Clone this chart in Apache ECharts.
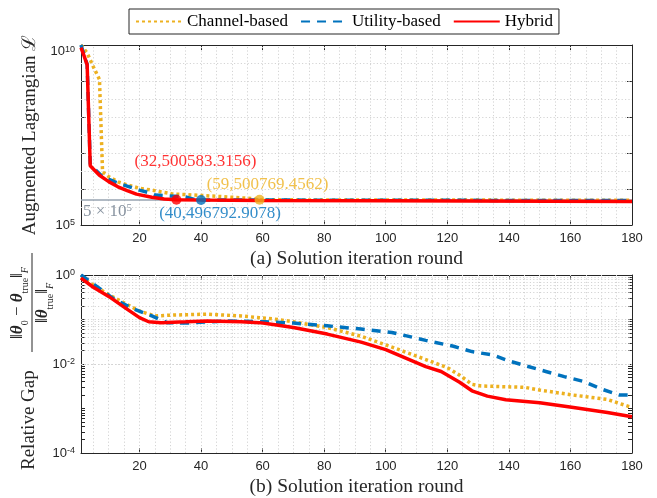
<!DOCTYPE html>
<html>
<head>
<meta charset="utf-8">
<script src="https://cdn.jsdelivr.net/npm/echarts@6/dist/echarts.min.js"></script>
<style>
  html, body { margin: 0; padding: 0; background: #ffffff; }
  #chart { width: 657px; height: 498px; }
</style>
</head>
<body>
<div id="chart"></div>
<script>
// ---- (a) augmented Lagrangian per solution round ----
const lagRoundsChannel = [1, 3, 5, 7, 8, 10, 13, 16, 20, 24, 31, 35, 46, 57, 59, 80, 120, 180];
const lagChannel = [1e10, 6.0e9, 2.5e9, 1.1e9, 3.0e6, 2.2e6, 1.58e6, 1.3e6, 1.05e6, 9.3e5, 7.2e5, 7.0e5, 6.2e5, 5.4e5, 500769.4562, 4.97e5, 4.92e5, 4.88e5];

const lagRoundsUtility = [1, 2, 3, 4, 6, 8, 13, 16, 20, 23, 25, 35, 38, 40, 60, 100, 180];
const lagUtility = [1e10, 5.3e9, 2.9e9, 5.0e6, 3.2e6, 2.2e6, 1.45e6, 1.2e6, 9.3e5, 7.9e5, 6.8e5, 6.0e5, 5.1e5, 496792.9078, 4.93e5, 4.86e5, 4.78e5];

const lagRoundsHybrid = [1, 2, 3, 4, 5, 7, 10, 13, 16, 19, 24, 28, 32, 40, 60, 100, 180];
const lagHybrid = [8.5e9, 5.0e9, 2.8e9, 4.4e6, 3.6e6, 2.4e6, 1.6e6, 1.15e6, 9.0e5, 7.2e5, 5.9e5, 5.3e5, 500583.3156, 4.92e5, 4.8e5, 4.7e5, 4.5e5];

// highlighted points: [round, value]
const pointHybrid = [32, 500583.3156];
const pointUtility = [40, 496792.9078];
const pointChannel = [59, 500769.4562];
const refLevel = 5e5;

// ---- (b) relative gap per solution round ----
const gapRoundsChannel = [1, 10, 20, 25, 31, 42, 53, 59, 64, 70, 81, 92, 102, 113, 120, 124, 128, 131, 145, 150, 161, 172, 180];
const gapChannel = [0.89, 0.36, 0.155, 0.12, 0.126, 0.132, 0.12, 0.11, 0.102, 0.089, 0.066, 0.042, 0.024, 0.0126, 0.0083, 0.0056, 0.0035, 0.0032, 0.003, 0.0026, 0.002, 0.0016, 0.00105];

const gapRoundsUtility = [1, 12, 18, 24, 29, 35, 48, 61, 70, 81, 92, 102, 113, 122, 128, 135, 140, 146, 152, 158, 164, 170, 176, 180];
const gapUtility = [1.0, 0.28, 0.174, 0.12, 0.085, 0.083, 0.093, 0.089, 0.083, 0.072, 0.061, 0.051, 0.034, 0.025, 0.019, 0.0158, 0.0117, 0.0089, 0.0068, 0.0052, 0.0041, 0.00275, 0.002, 0.002];

const gapRoundsHybrid = [1, 5, 10, 15, 20, 23, 27, 35, 42, 53, 59, 64, 70, 81, 92, 100, 113, 118, 124, 128, 133, 139, 150, 161, 172, 180];
const gapHybrid = [0.85, 0.53, 0.33, 0.19, 0.11, 0.089, 0.085, 0.089, 0.093, 0.089, 0.085, 0.076, 0.066, 0.047, 0.031, 0.021, 0.0087, 0.0068, 0.0039, 0.0025, 0.0019, 0.00158, 0.00135, 0.00105, 0.00081, 0.00065];

// ---- axis ticks ----
const roundTicks = [20, 40, 60, 80, 100, 120, 140, 160, 180];
const lagLabelTicks = [1e5, 1e10];
const gapLabelTicks = [1e-4, 1e-2, 1];

const seriesNames = ['Channel-based', 'Utility-based', 'Hybrid'];
const colors = { channel: '#EDB120', utility: '#0072BD', hybrid: '#FF0000' };

const zip = (xs, ys) => xs.map((x, i) => [x, ys[i]]);

const INK = '#262626';
const SANS = 'Liberation Sans';
const SERIF = 'Liberation Serif';

// gap axis ticks at every k * 10^n
const gapTicks = [];
for (let n = -4; n <= 0; n++) {
  for (let k = 1; k <= 9; k++) {
    const v = k * Math.pow(10, n);
    if (v <= 1.0000001) gapTicks.push(+v.toPrecision(6));
  }
}

// dotted grid lines
const gridStyle = { color: '#d4d4d4', type: [1.2, 2.2], width: 1 };
const roundGrid = [];
for (let r = 5; r < 180; r += 5) roundGrid.push({ xAxis: r });
const lagGrid = roundGrid.slice();
for (let e = 5.5; e < 10; e += 0.5) lagGrid.push({ yAxis: Math.pow(10, e) });
const gapGrid = roundGrid.slice();
gapTicks.forEach(v => { if (v > 1e-4 && v < 1) gapGrid.push({ yAxis: v }); });

const supRich = {
  b: { fontFamily: SANS, fontSize: 13, color: INK, lineHeight: 13, verticalAlign: 'bottom' },
  s: { fontFamily: SANS, fontSize: 9, color: INK, lineHeight: 9, verticalAlign: 'top', padding: [0, 0, 6, 0] }
};
const powLabel = v => '{b|10}{s|' + Math.round(Math.log10(v)) + '}';

function roundAxis(gridIndex, position, name) {
  return {
    type: 'value', gridIndex, position, min: 1, max: 180,
    name: name || '', nameLocation: 'middle', nameGap: 24,
    nameTextStyle: { fontFamily: SERIF, fontSize: 19.5, color: INK },
    axisLine: { show: true, onZero: false, lineStyle: { color: INK, width: 1 } },
    axisTick: { show: true, inside: true, length: 5, customValues: roundTicks, lineStyle: { color: INK } },
    axisLabel: {
      show: position === 'bottom', customValues: roundTicks, margin: 7,
      fontFamily: SANS, fontSize: 13, color: INK
    },
    splitLine: { show: false }
  };
}

function lagAxis(position) {
  return {
    type: 'log', logBase: 10, gridIndex: 0, position, min: 1e5, max: 1e10, splitNumber: 5,
    name: position === 'left' ? 'Augmented Lagrangian \u2112' : '',
    nameLocation: 'middle', nameGap: 38,
    nameTextStyle: { fontFamily: SERIF, fontSize: 19, color: INK },
    axisLine: { show: true, lineStyle: { color: INK, width: 1 } },
    axisTick: { show: true, inside: true, length: 5, lineStyle: { color: INK } },
    axisLabel: {
      show: position === 'left', customValues: lagLabelTicks, margin: 6,
      verticalAlignMaxLabel: 'top',
      formatter: powLabel, rich: supRich
    },
    splitLine: { show: false }
  };
}

function gapAxis(position) {
  return {
    type: 'log', logBase: 10, gridIndex: 1, position, min: 1e-4, max: 1,
    axisLine: { show: true, lineStyle: { color: INK, width: 1 } },
    axisTick: { show: true, inside: true, length: 4, customValues: gapTicks, lineStyle: { color: INK } },
    axisLabel: {
      show: position === 'left', customValues: gapLabelTicks, margin: 6,
      formatter: powLabel, rich: supRich
    },
    splitLine: { show: false }
  };
}

function curve(name, data, color, type, xi, yi) {
  return {
    name, type: 'line', data, xAxisIndex: xi, yAxisIndex: yi,
    symbol: 'none', smooth: false, z: 5,
    lineStyle: { color, width: 3.5, type, cap: 'butt' },
    itemStyle: { color }
  };
}

function marker(point, color, pos, offset) {
  return {
    type: 'scatter', xAxisIndex: 0, yAxisIndex: 0, z: 8,
    data: [point], symbol: 'circle', symbolSize: 10,
    itemStyle: { color },
    label: {
      show: true, position: pos, distance: 5, offset,
      formatter: p => '(' + p.value[0] + ',' + p.value[1] + ')',
      fontFamily: SERIF, fontSize: 17, color
    }
  };
}

const chart = echarts.init(document.getElementById('chart'), null, { renderer: 'canvas' });

chart.setOption({
  animation: false,
  backgroundColor: '#ffffff',
  grid: [
    { left: 81, top: 45, width: 551, height: 180 },
    { left: 81, top: 275, width: 551, height: 181 }
  ],
  legend: {
    data: seriesNames, left: 129, top: 9, orient: 'horizontal',
    itemWidth: 46, itemHeight: 14, itemGap: 12,
    padding: [4, 6, 4, 6], borderColor: INK, borderWidth: 1, backgroundColor: '#ffffff',
    selectedMode: false,
    itemStyle: { opacity: 0, borderWidth: 0 },
    textStyle: { fontFamily: SERIF, fontSize: 17, color: '#000000' }
  },
  xAxis: [
    roundAxis(0, 'bottom', '(a) Solution iteration round'),
    roundAxis(0, 'top'),
    roundAxis(1, 'bottom', '(b) Solution iteration round'),
    roundAxis(1, 'top')
  ],
  yAxis: [lagAxis('left'), lagAxis('right'), gapAxis('left'), gapAxis('right')],
  series: [
    {
      type: 'line', xAxisIndex: 0, yAxisIndex: 0, data: [], silent: true, z: 1,
      markLine: { symbol: 'none', silent: true, label: { show: false }, lineStyle: gridStyle, data: lagGrid }
    },
    {
      type: 'line', xAxisIndex: 2, yAxisIndex: 2, data: [], silent: true, z: 1,
      markLine: { symbol: 'none', silent: true, label: { show: false }, lineStyle: gridStyle, data: gapGrid }
    },
    {
      type: 'line', xAxisIndex: 0, yAxisIndex: 0, data: [], silent: true, z: 3,
      markLine: {
        symbol: 'none', silent: true,
        lineStyle: { color: '#97a3b0', type: 'solid', width: 1.5 },
        label: {
          show: true, position: 'insideStartBottom', distance: [2, 3],
          formatter: '{a|5 \u00d7 10}{s|5}',
          rich: {
            a: { fontFamily: SERIF, fontSize: 17, color: '#8893a0', lineHeight: 17, verticalAlign: 'bottom' },
            s: { fontFamily: SERIF, fontSize: 11, color: '#8893a0', lineHeight: 11, verticalAlign: 'top', padding: [0, 0, 8, 0] }
          }
        },
        data: [{ yAxis: refLevel }]
      }
    },
    curve(seriesNames[0], zip(lagRoundsChannel, lagChannel), colors.channel, [3, 3], 0, 0),
    curve(seriesNames[1], zip(lagRoundsUtility, lagUtility), colors.utility, [9, 7], 0, 0),
    curve(seriesNames[2], zip(lagRoundsHybrid, lagHybrid), colors.hybrid, 'solid', 0, 0),
    curve(seriesNames[0], zip(gapRoundsChannel, gapChannel), colors.channel, [3, 3], 2, 2),
    curve(seriesNames[1], zip(gapRoundsUtility, gapUtility), colors.utility, [9, 7], 2, 2),
    curve(seriesNames[2], zip(gapRoundsHybrid, gapHybrid), colors.hybrid, 'solid', 2, 2),
    marker(pointHybrid, colors.hybrid, 'top', [19, -20]),
    marker(pointUtility, colors.utility, 'bottom', [19, -5]),
    marker(pointChannel, colors.channel, 'top', [8, 3])
  ],
  graphic: [
    {
      type: 'group', x: 29, y: 470, rotation: Math.PI / 2, silent: true,
      children: [
        {
          type: 'text', x: 0, y: 0,
          style: { text: 'Relative Gap', font: '19px "Liberation Serif"', fill: INK, align: 'left', verticalAlign: 'middle' }
        },
        {
          type: 'text', x: 167, y: 1,
          style: {
            text: '{n|\u2016}{t|\u03b8}{s|0}{n| \u2212 }{t|\u03b8}{s|true}{n|\u2016}{f|F}',
            align: 'center', verticalAlign: 'bottom',
            rich: {
              n: { fontFamily: SERIF, fontSize: 17, fill: INK, verticalAlign: 'top', padding: [0, 0, 4, 0] },
              t: { fontFamily: SERIF, fontSize: 17, fontWeight: 'bold', fontStyle: 'italic', fill: INK, verticalAlign: 'top', padding: [0, 0, 4, 0] },
              s: { fontFamily: SERIF, fontSize: 10, fill: INK, verticalAlign: 'bottom' },
              f: { fontFamily: SERIF, fontSize: 10, fontStyle: 'italic', fill: INK, verticalAlign: 'bottom' }
            }
          }
        },
        { type: 'line', shape: { x1: 118, y1: 3, x2: 217, y2: 3 }, style: { stroke: INK, lineWidth: 1 } },
        {
          type: 'text', x: 167, y: 5,
          style: {
            text: '{n|\u2016}{t|\u03b8}{s|true}{n|\u2016}{f|F}',
            align: 'center', verticalAlign: 'top',
            rich: {
              n: { fontFamily: SERIF, fontSize: 17, fill: INK, verticalAlign: 'top', padding: [0, 0, 4, 0] },
              t: { fontFamily: SERIF, fontSize: 17, fontWeight: 'bold', fontStyle: 'italic', fill: INK, verticalAlign: 'top', padding: [0, 0, 4, 0] },
              s: { fontFamily: SERIF, fontSize: 10, fill: INK, verticalAlign: 'bottom' },
              f: { fontFamily: SERIF, fontSize: 10, fontStyle: 'italic', fill: INK, verticalAlign: 'bottom' }
            }
          }
        }
      ]
    }
  ]
});
</script>
</body>
</html>
